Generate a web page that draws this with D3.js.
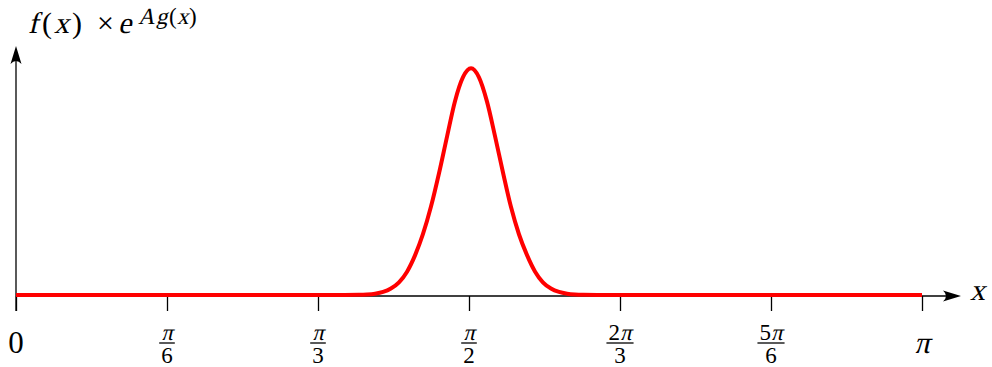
<!DOCTYPE html>
<html>
<head>
<meta charset="utf-8">
<script src="https://cdn.jsdelivr.net/npm/d3@7"></script>
<style>
  html, body { margin: 0; padding: 0; background: #fff; }
  svg { display: block; }
</style>
</head>
<body>
<svg id="chart"></svg>
<script>
// curve samples (x in radians, y relative to the peak)
const xs = [0, 1.080, 1.134, 1.189, 1.217, 1.245, 1.273, 1.300, 1.328, 1.356,
  1.384, 1.411, 1.439, 1.467, 1.495, 1.522, 1.550, 1.578, 1.605, 1.633,
  1.661, 1.689, 1.716, 1.744, 1.772, 1.800, 1.827, 1.855, 1.883, 1.911,
  1.938, 1.966, 2.022, 2.075, Math.PI];
const ys = [0, 0, 0.0002, 0.0009, 0.0024, 0.0059, 0.0135, 0.0286, 0.056, 0.103,
  0.176, 0.268, 0.390, 0.538, 0.701, 0.854, 0.961, 1.0, 0.961, 0.854,
  0.701, 0.538, 0.390, 0.268, 0.176, 0.103, 0.056, 0.0286, 0.0135, 0.0059,
  0.0024, 0.0009, 0.0002, 0, 0];

const tickValues = [0, Math.PI / 6, Math.PI / 3, Math.PI / 2, 2 * Math.PI / 3, 5 * Math.PI / 6, Math.PI];
const tickNums = ["0", "π", "π", "π", "2π", "5π", "π"];
const tickDens = [null, "6", "3", "2", "3", "6", null];

const width = 992,
  height = 367,
  serif = "'Liberation Serif', serif",
  slant = -13;   // no italic face here, so math letters are slanted by hand

const svg = d3.select("#chart")
  .attr("width", width)
  .attr("height", height);

// one glyph run; italic ones get a skew instead of a font-style
function glyph(str, x0, y0, size, italic, anchor) {
  const t = svg.append("text")
    .style("font-family", serif)
    .style("font-size", size + "px")
    .attr("text-anchor", anchor || "start")
    .text(str);
  if (italic) t.attr("transform", `translate(${x0},${y0}) skewX(${slant})`);
  else t.attr("x", x0).attr("y", y0);
  return t;
}

const x = d3.scaleLinear().domain([0, Math.PI]).range([16, 922]);
const y = d3.scaleLinear().domain([0, 1]).range([295, 68.3]);

const axisY = y(0) + 1;   // the black axis sits just under the zero line
const xEnd = 961,           // arrow tips
  yEnd = 46;

// axes lines
svg.append("line")
  .attr("x1", x(0)).attr("x2", xEnd - 6)
  .attr("y1", axisY).attr("y2", axisY)
  .attr("stroke", "#000").attr("stroke-width", 1.3);

svg.append("line")
  .attr("x1", x(0)).attr("x2", x(0))
  .attr("y1", axisY + 15).attr("y2", yEnd + 6)
  .attr("stroke", "#000").attr("stroke-width", 1.3);

// arrow heads (stealth-like)
const head = "M0,0 L-18,-5.5 Q-12,0 -18,5.5 Z";
svg.append("path")
  .attr("d", head)
  .attr("transform", `translate(${xEnd},${axisY})`)
  .attr("fill", "#000");
svg.append("path")
  .attr("d", head)
  .attr("transform", `translate(${x(0)},${yEnd}) rotate(-90)`)
  .attr("fill", "#000");

// ticks
const axis = d3.axisBottom(x)
  .tickValues(tickValues)
  .tickSize(15)
  .tickSizeOuter(0)
  .tickFormat("");

const gAxis = svg.append("g")
  .attr("transform", `translate(0,${axisY})`)
  .call(axis);
gAxis.select(".domain").remove();
gAxis.selectAll(".tick line").attr("stroke", "#000").attr("stroke-width", 1.3);

// tick labels
tickValues.forEach(function(v, i) {
  const cx = x(v);
  if (tickDens[i] === null) {
    glyph(tickNums[i], cx, 353, 31, tickNums[i] === "π", "middle");
  } else {
    const m = tickNums[i].match(/^(\d*)(π)$/);
    const d = m[1] ? glyph(m[1], 0, 340, 23, false) : null;
    const dw = d ? d.node().getComputedTextLength() : 0;
    const p = glyph(m[2], 0, 340, 23, true);
    const pw = p.node().getComputedTextLength();
    const left = cx - (dw + pw) / 2;
    if (d) d.attr("x", left);
    p.attr("transform", `translate(${left + dw},340) skewX(${slant})`);
    const w = dw + pw + 4;
    svg.append("line")
      .attr("x1", cx - w / 2).attr("x2", cx + w / 2)
      .attr("y1", 343).attr("y2", 343)
      .attr("stroke", "#000").attr("stroke-width", 1.3);
    glyph(tickDens[i], cx, 363, 23, false, "middle");
  }
});

// axis labels
glyph("x", 970, 300, 30, true);

const titleMain = [["f", 28, true], ["(", 42, false], ["x", 54, true], [")", 72, false], ["×", 97, false], ["e", 118, true]];
const titleSup = [["A", 138, true], ["g", 156, true], ["(", 169, false], ["x", 177, true], [")", 189, false]];
titleMain.forEach(function(s) { glyph(s[0], s[1], 33, 30, s[2]); });
titleSup.forEach(function(s) { glyph(s[0], s[1], 24, 23, s[2]); });

// the curve
const pts = xs.map(function(v, i) { return [v, ys[i]]; });
const line = d3.line()
  .x(function(d) { return x(d[0]); })
  .y(function(d) { return y(d[1]); })
  .curve(d3.curveMonotoneX);

svg.append("path")
  .datum(pts)
  .attr("d", line)
  .attr("fill", "none")
  .attr("stroke", "#ff0000")
  .attr("stroke-width", 4)
  .attr("stroke-linejoin", "round");
</script>
</body>
</html>
